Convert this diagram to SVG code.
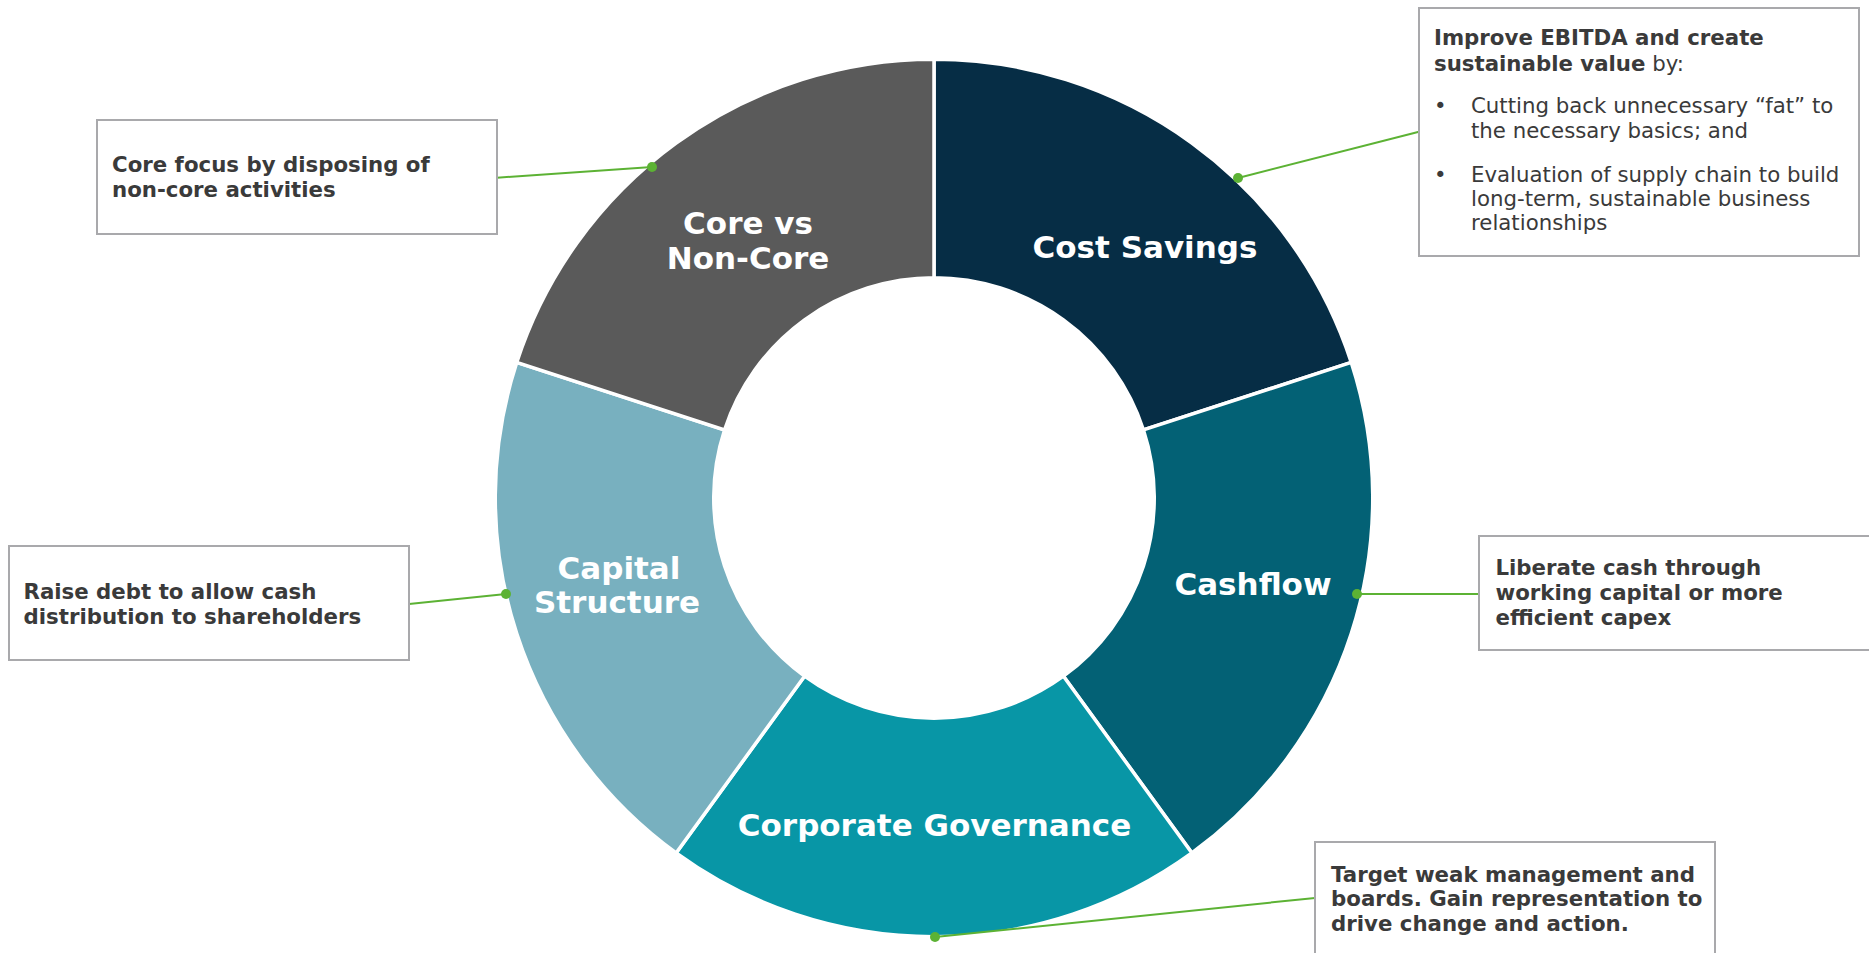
<svg xmlns="http://www.w3.org/2000/svg" width="1869" height="953" viewBox="0 0 1869 953">
  <style>
    .seg { stroke: #ffffff; stroke-width: 3.5; stroke-linejoin: miter; }
    .seg-label { font-family: "DejaVu Sans", Verdana, sans-serif; font-weight: bold; font-size: 31px; fill: #ffffff; text-anchor: middle; }
    .box { fill: #ffffff; stroke: #a9a9ac; stroke-width: 2; }
    .box-text { font-family: "DejaVu Sans", Verdana, sans-serif; font-size: 21.3px; fill: #3a3a3a; }
    .b { font-weight: bold; }
    .lead { stroke: #5cb234; stroke-width: 2; fill: none; }
    .dot { fill: #5cb234; }
  </style>

  <rect width="1869" height="953" fill="#ffffff"/>

  <!-- ring segments, centre (934,498) -->
  <g id="seg-cost-savings">
    <path class="seg" fill="#062d45" d="M 934 59.25 A 438.75 438.75 0 0 1 1351.27 362.42 L 1143.47 429.94 A 220.25 220.25 0 0 0 934 277.75 Z"/>
    <text class="seg-label" x="1145" y="258">Cost Savings</text>
  </g>
  <g id="seg-cashflow">
    <path class="seg" fill="#036175" d="M 1351.27 362.42 A 438.75 438.75 0 0 1 1191.89 852.96 L 1063.46 676.19 A 220.25 220.25 0 0 0 1143.47 429.94 Z"/>
    <text class="seg-label" x="1253" y="595">Cashflow</text>
  </g>
  <g id="seg-corporate-governance">
    <path class="seg" fill="#0896a6" d="M 1191.89 852.96 A 438.75 438.75 0 0 1 676.11 852.96 L 804.54 676.19 A 220.25 220.25 0 0 0 1063.46 676.19 Z"/>
    <text class="seg-label" x="934.5" y="836">Corporate Governance</text>
  </g>
  <g id="seg-capital-structure">
    <path class="seg" fill="#78b0bf" d="M 676.11 852.96 A 438.75 438.75 0 0 1 516.73 362.42 L 724.53 429.94 A 220.25 220.25 0 0 0 804.54 676.19 Z"/>
    <text class="seg-label" x="619" y="579">Capital</text>
    <text class="seg-label" x="617" y="613">Structure</text>
  </g>
  <g id="seg-core-vs-non-core">
    <path class="seg" fill="#5a5a5a" d="M 516.73 362.42 A 438.75 438.75 0 0 1 934 59.25 L 934 277.75 A 220.25 220.25 0 0 0 724.53 429.94 Z"/>
    <text class="seg-label" x="748" y="234">Core vs</text>
    <text class="seg-label" x="748" y="268.5">Non-Core</text>
  </g>

  <!-- leader lines from ring to callouts -->
  <g id="connectors">
    <line class="lead" x1="652" y1="167" x2="497" y2="177.7"/>
    <circle class="dot" cx="652" cy="167" r="5"/>
    <line class="lead" x1="1238" y1="178" x2="1419" y2="131.7"/>
    <circle class="dot" cx="1238" cy="178" r="5"/>
    <line class="lead" x1="506" y1="594" x2="409" y2="604"/>
    <circle class="dot" cx="506" cy="594" r="5"/>
    <line class="lead" x1="1357" y1="594" x2="1479" y2="594"/>
    <circle class="dot" cx="1357" cy="594" r="5"/>
    <line class="lead" x1="935" y1="937" x2="1315" y2="898"/>
    <circle class="dot" cx="935" cy="937" r="5"/>
  </g>

  <!-- callout boxes -->
  <g id="note-core">
    <rect class="box" x="97" y="120" width="400" height="114"/>
    <text class="box-text b" x="112" y="172">Core focus by disposing of</text>
    <text class="box-text b" x="112" y="197">non-core activities</text>
  </g>

  <g id="note-cost">
    <rect class="box" x="1419" y="8" width="440" height="248"/>
    <text class="box-text b" x="1434" y="45">Improve EBITDA and create</text>
    <text class="box-text" x="1434" y="70.5"><tspan class="b">sustainable value</tspan> by:</text>
    <text class="box-text" x="1434" y="113">•</text>
    <text class="box-text" x="1471" y="113">Cutting back unnecessary “fat” to</text>
    <text class="box-text" x="1471" y="138">the necessary basics; and</text>
    <text class="box-text" x="1434" y="182">•</text>
    <text class="box-text" x="1471" y="182">Evaluation of supply chain to build</text>
    <text class="box-text" x="1471" y="206">long-term, sustainable business</text>
    <text class="box-text" x="1471" y="230">relationships</text>
  </g>

  <g id="note-capital">
    <rect class="box" x="9" y="546" width="400" height="114"/>
    <text class="box-text b" x="23.5" y="598.5">Raise debt to allow cash</text>
    <text class="box-text b" x="23.5" y="624">distribution to shareholders</text>
  </g>

  <g id="note-cashflow">
    <rect class="box" x="1479" y="536" width="400" height="114"/>
    <text class="box-text b" x="1495.5" y="575">Liberate cash through</text>
    <text class="box-text b" x="1495.5" y="600">working capital or more</text>
    <text class="box-text b" x="1495.5" y="625">efficient capex</text>
  </g>

  <g id="note-governance">
    <rect class="box" x="1315" y="842" width="400" height="114"/>
    <text class="box-text b" x="1331" y="881.5">Target weak management and</text>
    <text class="box-text b" x="1331" y="906">boards. Gain representation to</text>
    <text class="box-text b" x="1331" y="930.5">drive change and action.</text>
  </g>
</svg>
